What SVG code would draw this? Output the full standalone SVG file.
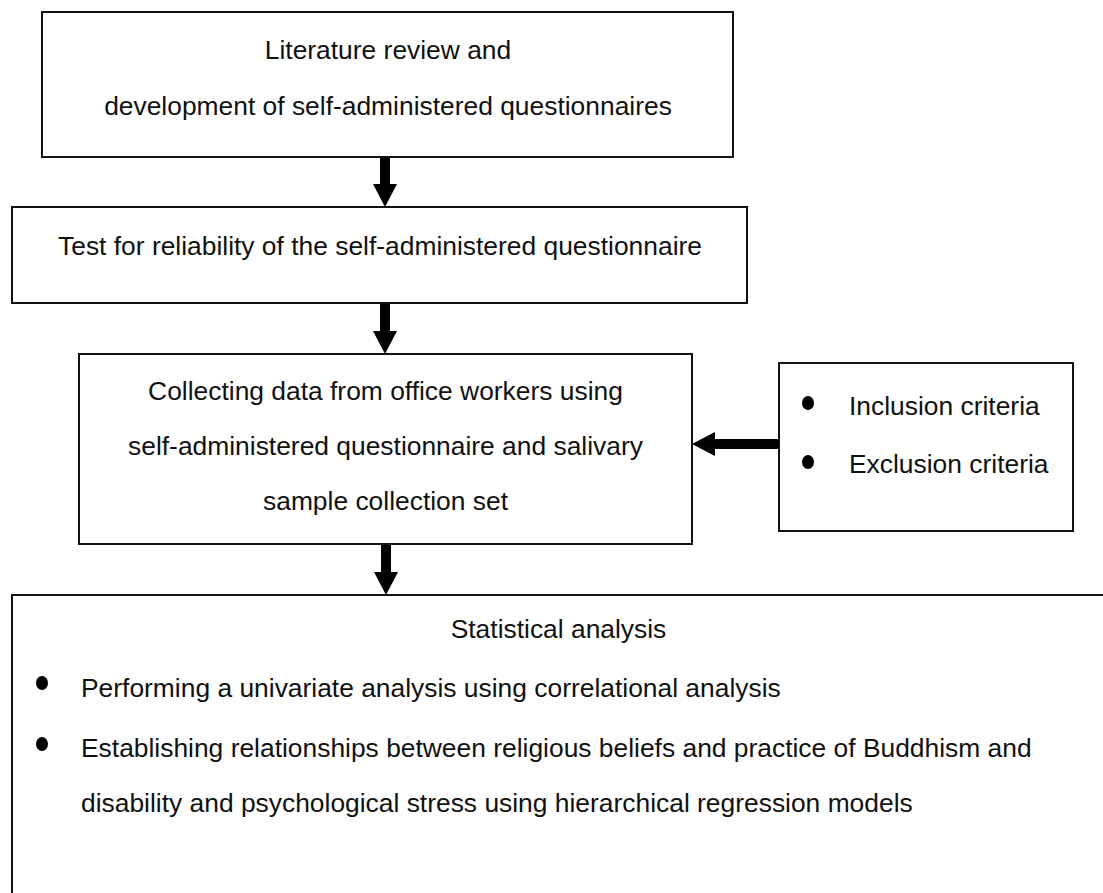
<svg xmlns="http://www.w3.org/2000/svg" width="1103" height="893" viewBox="0 0 1103 893">
<style>
.box{fill:#fff;stroke:#111;stroke-width:2}
.t{font-family:"Liberation Sans",Arial,sans-serif;font-size:26.4px;fill:#111}
.c{text-anchor:middle}
.dot{fill:#000}
.shaft{stroke:#000;stroke-width:10;fill:none}
.head{fill:#000}
</style>
<rect width="1103" height="893" fill="#fff"/>
<g id="node-literature">
<rect class="box" x="42" y="12" width="691" height="145"/>
<text class="t c" x="388" y="59">Literature review and</text>
<text class="t c" x="388" y="115">development of self-administered questionnaires</text>
</g>
<g id="node-test">
<rect class="box" x="12" y="207" width="735" height="96"/>
<text class="t c" x="380" y="255">Test for reliability of the self-administered questionnaire</text>
</g>
<g id="node-collect">
<rect class="box" x="79" y="354" width="613" height="190"/>
<text class="t c" x="385.5" y="400">Collecting data from office workers using</text>
<text class="t c" x="385.5" y="455">self-administered questionnaire and salivary</text>
<text class="t c" x="385.5" y="510">sample collection set</text>
</g>
<g id="node-criteria">
<rect class="box" x="779" y="363" width="294" height="168"/>
<ellipse class="dot" cx="808" cy="403" rx="6" ry="7"/>
<text class="t" x="849" y="415">Inclusion criteria</text>
<ellipse class="dot" cx="808" cy="462" rx="6" ry="7"/>
<text class="t" x="849" y="473">Exclusion criteria</text>
</g>
<g id="node-stats">
<rect class="box" x="12" y="595" width="1093" height="320"/>
<text class="t c" x="558.5" y="638">Statistical analysis</text>
<ellipse class="dot" cx="42" cy="683" rx="6" ry="7"/>
<text class="t" x="81" y="697">Performing a univariate analysis using correlational analysis</text>
<ellipse class="dot" cx="42" cy="744" rx="6" ry="7"/>
<text class="t" x="81" y="757">Establishing relationships between religious beliefs and practice of Buddhism and</text>
<text class="t" x="81" y="812">disability and psychological stress using hierarchical regression models</text>
</g>
<g id="connectors">
<line class="shaft" x1="385" y1="158" x2="385" y2="185"/>
<polygon class="head" points="373,184 397,184 385,207"/>
<line class="shaft" x1="385" y1="304" x2="385" y2="332"/>
<polygon class="head" points="373,331 397,331 385,354"/>
<line class="shaft" x1="386" y1="545" x2="386" y2="573"/>
<polygon class="head" points="374,572 398,572 386,595"/>
<line class="shaft" x1="779" y1="444" x2="714" y2="444"/>
<polygon class="head" points="715,432 715,456 692,444"/>
</g>
</svg>
